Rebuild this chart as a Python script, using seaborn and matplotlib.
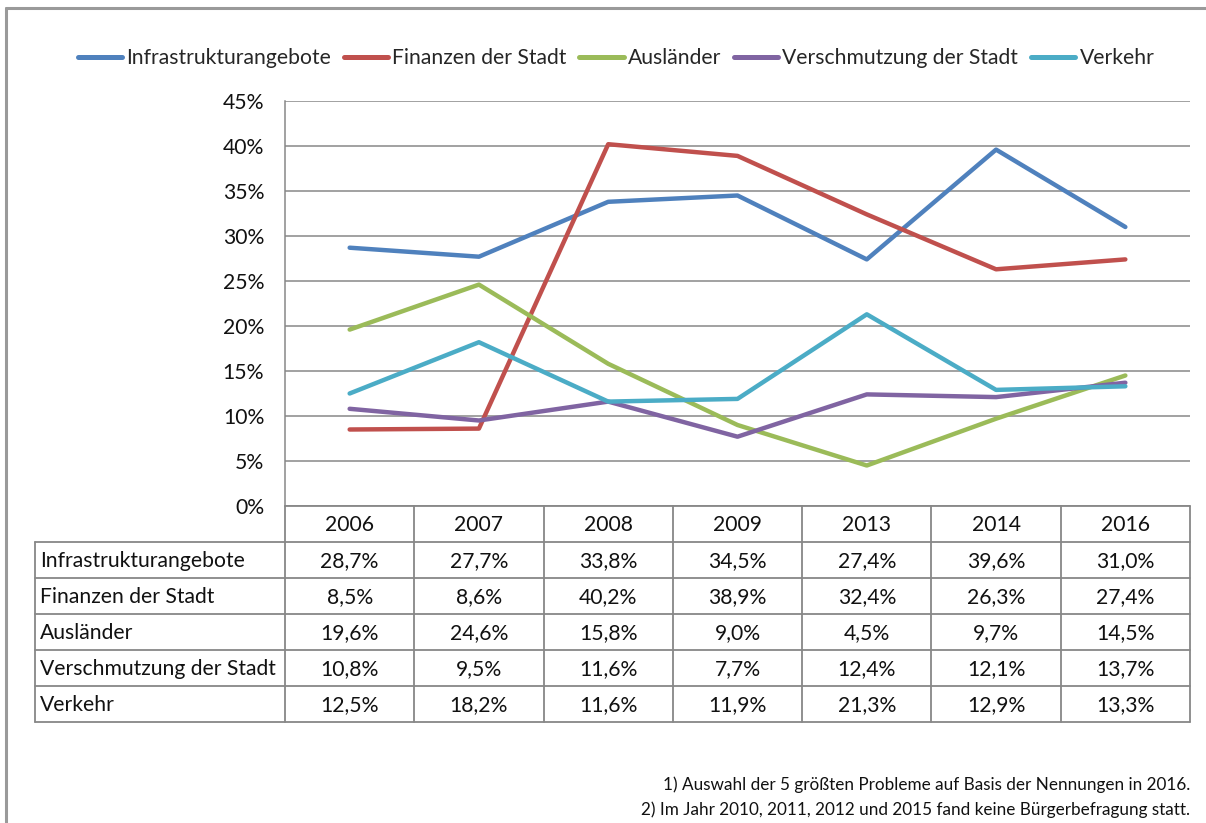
import matplotlib
matplotlib.use("Agg")
import matplotlib.pyplot as plt
import seaborn as sns
import pandas as pd
from matplotlib.lines import Line2D

years = ["2006", "2007", "2008", "2009", "2013", "2014", "2016"]
series_names = ["Infrastrukturangebote", "Finanzen der Stadt", "Ausländer",
                "Verschmutzung der Stadt", "Verkehr"]
infrastruktur = [28.7, 27.7, 33.8, 34.5, 27.4, 39.6, 31.0]
finanzen = [8.5, 8.6, 40.2, 38.9, 32.4, 26.3, 27.4]
auslaender = [19.6, 24.6, 15.8, 9.0, 4.5, 9.7, 14.5]
verschmutzung = [10.8, 9.5, 11.6, 7.7, 12.4, 12.1, 13.7]
verkehr = [12.5, 18.2, 11.6, 11.9, 21.3, 12.9, 13.3]
y_ticks = [0, 5, 10, 15, 20, 25, 30, 35, 40, 45]
footnotes = ["1) Auswahl der 5 größten Probleme auf Basis der Nennungen in 2016.",
             "2) Im Jahr 2010, 2011, 2012 und 2015 fand keine Bürgerbefragung statt."]
colors = ["#4F81BD", "#C0504D", "#9BBB59", "#8064A2", "#4BACC6"]

all_values = [infrastruktur, finanzen, auslaender, verschmutzung, verkehr]
rows = []
for name, vals in zip(series_names, all_values):
    for i, v in enumerate(vals):
        rows.append({"series": name, "pos": i, "value": v})
df = pd.DataFrame(rows)

sns.set_style("white")
plt.rcParams["font.family"] = ["Lato", "DejaVu Sans"]

W, H = 1206, 823
fig = plt.figure(figsize=(W / 100, H / 100), dpi=100)

# overlay for frame / table
ov = fig.add_axes([0, 0, 1, 1], zorder=0)
ov.set_xlim(0, W)
ov.set_ylim(H, 0)
ov.axis("off")

gray = "#878787"
txt = "#111111"
fs = 15.2
# chart frame
ov.plot([5.5, W], [8, 8], color="#9a9a9a", lw=2.2)
ov.plot([5.5, 5.5], [8, H], color="#9a9a9a", lw=2.2)

px_l, px_r, px_t, px_b = 285, 1190, 101, 506
ax = fig.add_axes([px_l / W, 1 - px_b / H, (px_r - px_l) / W, (px_b - px_t) / H], zorder=2)
ax.patch.set_alpha(0)

sns.lineplot(data=df, x="pos", y="value", hue="series", hue_order=series_names,
             palette=colors, linewidth=3.2, ax=ax, legend=False)
ax.set_xlim(-0.5, len(years) - 0.5)
ax.set_ylim(0, 45)
ax.set_yticks(y_ticks)
ax.set_yticklabels([f"{t}%" for t in y_ticks], fontsize=fs, color=txt)
ax.set_xticks([])
ax.set_xlabel("")
ax.set_ylabel("")
ax.grid(axis="y", color=gray, lw=1.1)
ax.set_axisbelow(True)
for s in ["top", "right", "bottom"]:
    ax.spines[s].set_visible(False)
ax.spines["left"].set_color(gray)
ax.spines["left"].set_linewidth(1.1)
ax.tick_params(axis="y", direction="out", length=5, width=1.1, color=gray, pad=10)

# legend
handles = [Line2D([0], [0], color=c, lw=3.6, solid_capstyle="round") for c in colors]
fig.legend(handles, series_names, loc="center", bbox_to_anchor=(616 / W, 1 - 58 / H),
           ncol=5, frameon=False, fontsize=fs, handlelength=2.1, handletextpad=0.2,
           columnspacing=0.6, borderpad=0, borderaxespad=0)

# data table
col_w = (px_r - px_l) / len(years)
row_h = 36
hdr_top, hdr_bot = 506, 542
tbl_left = 35
tbl_bot = hdr_bot + row_h * len(series_names)
lc = gray
lw = 1.3
ov.plot([px_l, px_r], [hdr_top, hdr_top], color=lc, lw=lw)
for k in range(len(years) + 1):
    x = px_l + k * col_w
    ov.plot([x, x], [hdr_top, tbl_bot], color=lc, lw=lw)
ov.plot([tbl_left, tbl_left], [hdr_bot, tbl_bot], color=lc, lw=lw)
for r in range(len(series_names) + 1):
    y = hdr_bot + r * row_h
    ov.plot([tbl_left, px_r], [y, y], color=lc, lw=lw)

for k, yr in enumerate(years):
    ov.text(px_l + (k + 0.5) * col_w, (hdr_top + hdr_bot) / 2 + 1, yr,
            ha="center", va="center", fontsize=fs, color=txt)
for r, (name, vals) in enumerate(zip(series_names, all_values)):
    yc = hdr_bot + (r + 0.5) * row_h + 1
    ov.text(tbl_left + 5, yc, name, ha="left", va="center", fontsize=fs, color=txt)
    for k, v in enumerate(vals):
        ov.text(px_l + (k + 0.5) * col_w, yc, f"{v:.1f}%".replace(".", ","),
                ha="center", va="center", fontsize=fs, color=txt)

# footnotes
ov.text(1190, 785, footnotes[0], ha="right", va="center", fontsize=12.3, color=txt)
ov.text(1190, 810, footnotes[1], ha="right", va="center", fontsize=12.3, color=txt)

fig.savefig("out.png", dpi=100)
